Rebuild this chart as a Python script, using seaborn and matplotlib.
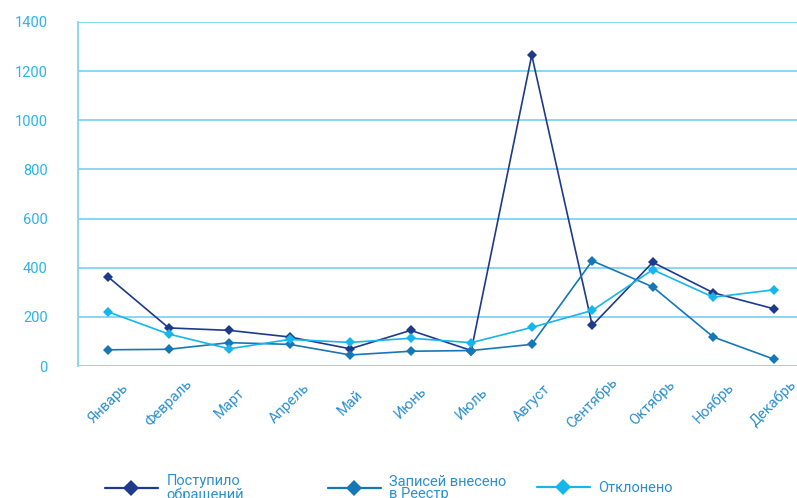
import numpy as np
import pandas as pd
import matplotlib
matplotlib.use("Agg")
import matplotlib.pyplot as plt
from matplotlib.lines import Line2D
import seaborn as sns

months = ["Январь", "Февраль", "Март", "Апрель", "Май", "Июнь",
          "Июль", "Август", "Сентябрь", "Октябрь", "Ноябрь", "Декабрь"]
received = [362, 155, 145, 118, 70, 145, 63, 1265, 165, 422, 298, 233]
registered = [66, 68, 95, 88, 45, 60, 63, 88, 428, 322, 118, 28]
rejected = [220, 130, 70, 108, 96, 113, 95, 157, 226, 392, 280, 310]

series_names = ["Поступило\nобращений", "Записей внесено\nв Реестр", "Отклонено"]
series_colors = ["#1e3a8a", "#1677b6", "#14b6ec"]

GRID = "#7fd3f3"
YTXT = "#2ab4ea"
XTXT = "#2d90cc"

sns.set_style("white")
plt.rcParams["font.family"] = ["Roboto", "DejaVu Sans"]

df = pd.DataFrame({
    "month": months * 3,
    "value": received + registered + rejected,
    "series": np.repeat(series_names, len(months)),
})

fig = plt.figure(figsize=(7.97, 4.98), dpi=100)
ax = fig.add_axes([78 / 797, 132 / 498, 726 / 797, 344 / 498])

sns.lineplot(data=df, x="month", y="value", hue="series", style="series",
             palette=dict(zip(series_names, series_colors)),
             markers={n: "D" for n in series_names}, dashes=False,
             markersize=5.5, markeredgewidth=0, linewidth=1.2,
             sort=False, legend=False, ax=ax)

ax.set_xlim(-0.5, len(months) - 0.5)
ax.set_ylim(0, 1400)
ax.set_yticks(range(0, 1401, 200))
ax.set_xlabel("")
ax.set_ylabel("")
ax.yaxis.grid(True, color=GRID, lw=1.3)
ax.set_axisbelow(True)
for s in ["top", "right", "bottom"]:
    ax.spines[s].set_visible(False)
ax.spines["left"].set_color(GRID)
ax.spines["left"].set_linewidth(1.3)

ax.tick_params(axis="y", length=18.7, width=1.3, color=GRID, pad=3,
               labelsize=10.5, labelcolor=YTXT)
ax.set_xticks(np.arange(0.5, len(months) - 1, 1), minor=True)
ax.tick_params(axis="x", which="minor", length=31.7, width=1.3, color=GRID)
ax.tick_params(axis="x", which="major", length=0, pad=26.6,
               labelsize=10.5, labelcolor=XTXT)
for lbl in ax.get_xticklabels():
    lbl.set_rotation(45)
    lbl.set_ha("center")
    lbl.set_va("center")

# legend: one box per entry, spread along the bottom
legend_x = [105 / 797, 328 / 797, 537 / 797]
for name, color, x in zip(series_names, series_colors, legend_x):
    h = Line2D([], [], color=color, lw=1.6, marker="D", markersize=8,
               markeredgewidth=0)
    leg = fig.legend([h], [name], loc="center left", bbox_to_anchor=(x, 0.02),
                     frameon=False, fontsize=10.5, borderpad=0, borderaxespad=0,
                     handlelength=3.6, handletextpad=0.6)
    for t in leg.get_texts():
        t.set_color(XTXT)
        t.set_linespacing(0.9)

fig.savefig("out.png", dpi=100)
